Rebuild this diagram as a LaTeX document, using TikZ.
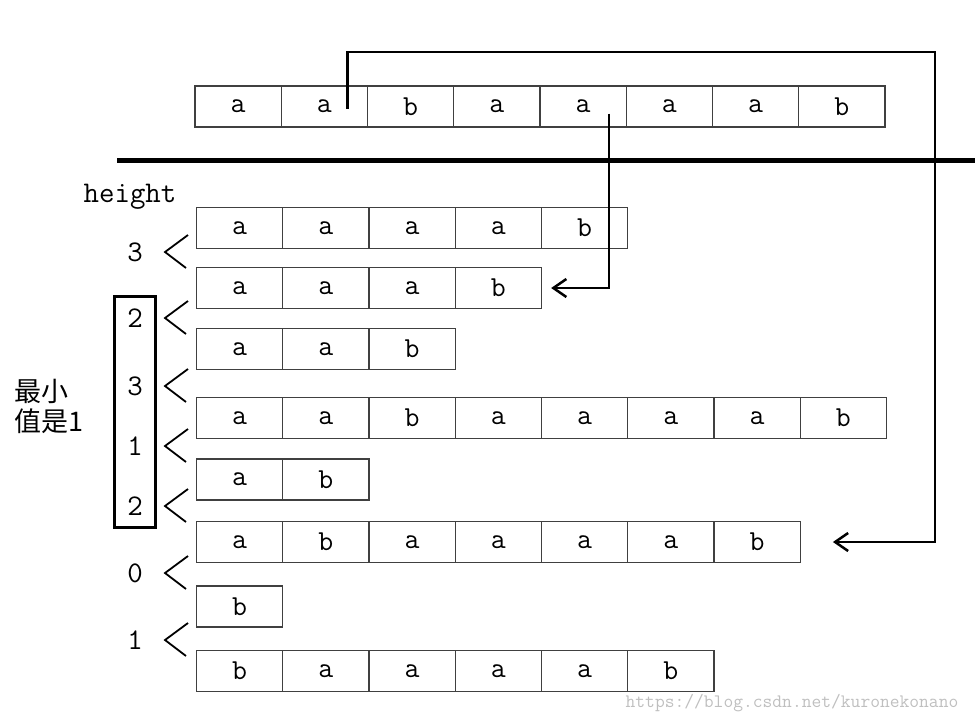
\documentclass[tikz,border=0pt]{standalone}
\usepackage{fontspec}
\newfontfamily\cjk{Noto Sans CJK SC}
\usetikzlibrary{arrows.meta,fit,positioning}

\begin{document}
\begin{tikzpicture}[x=1pt, y=-1pt, >={Straight Barb[length=13pt,width=18pt]},
  cell/.style = {draw=black!75, line width=1.3pt, minimum width=86.25pt, minimum height=41pt, inner sep=0, font=\ttfamily\fontsize{29}{29}\selectfont},
  num/.style = {inner sep=0, font=\ttfamily\fontsize{30}{30}\selectfont},
  link/.style = {draw, line width=2.5pt}]
  \useasboundingbox (0,0) rectangle (975,724);
  % the text
  \foreach \c [count=\k] in {a,a,b,a,a,a,a,b}
    \node[cell] (t\k) at (195+86.25*\k-43.125,106.5) {\c};
  \draw[line width=5pt] (117,160) -- (975,160);
  % sorted suffixes
  \foreach \y/\str [count=\r] in {228/{a,a,a,a,b}, 288/{a,a,a,b}, 349/{a,a,b}, 418/{a,a,b,a,a,a,a,b},
      479.5/{a,b}, 542/{a,b,a,a,a,a,b}, 606.5/{b}, 671/{b,a,a,a,a,b}}
    \foreach \c [count=\k] in \str
      \node[cell] (s\r-\k) at (196.5+86.25*\k-43.125,\y) {\c};
  \node[num] (height) at (130,197) {height};
  \foreach \v/\y [count=\i] in {3/252,2/318,3/386,1/446,2/506,0/573,1/640} {
    \node[num] (h\i) at (135,\y) {\v};
    \draw[line width=1.8pt] ([xshift=53pt,yshift=17pt]h\i.center) -- ([xshift=30pt]h\i.center) -- ([xshift=51pt,yshift=-16pt]h\i.center);
  }
  \node[draw, line width=3pt, inner xsep=13pt, inner ysep=12pt, fit=(h2)(h5)] (minbox) {};
  \node[anchor=west, align=left, inner sep=0, font=\cjk\fontsize{27}{30}\selectfont] (minlabel) at (14,406) {最小\\值是1};
  % links
  \coordinate (corner) at (935,52);
  \draw[link,->] ([xshift=23pt,yshift=-2pt]t2.center) |- (corner) |- ([xshift=32pt]s6-7.east);
  \draw[link,->] ([xshift=26pt,yshift=-7pt]t5.center) |- ([xshift=9pt]s2-4.east);
  \node[text=black!25, font=\ttfamily\fontsize{19}{19}\selectfont] (watermark) at (792,703) {https://blog.csdn.net/kuronekonano};
\end{tikzpicture}
\end{document}
